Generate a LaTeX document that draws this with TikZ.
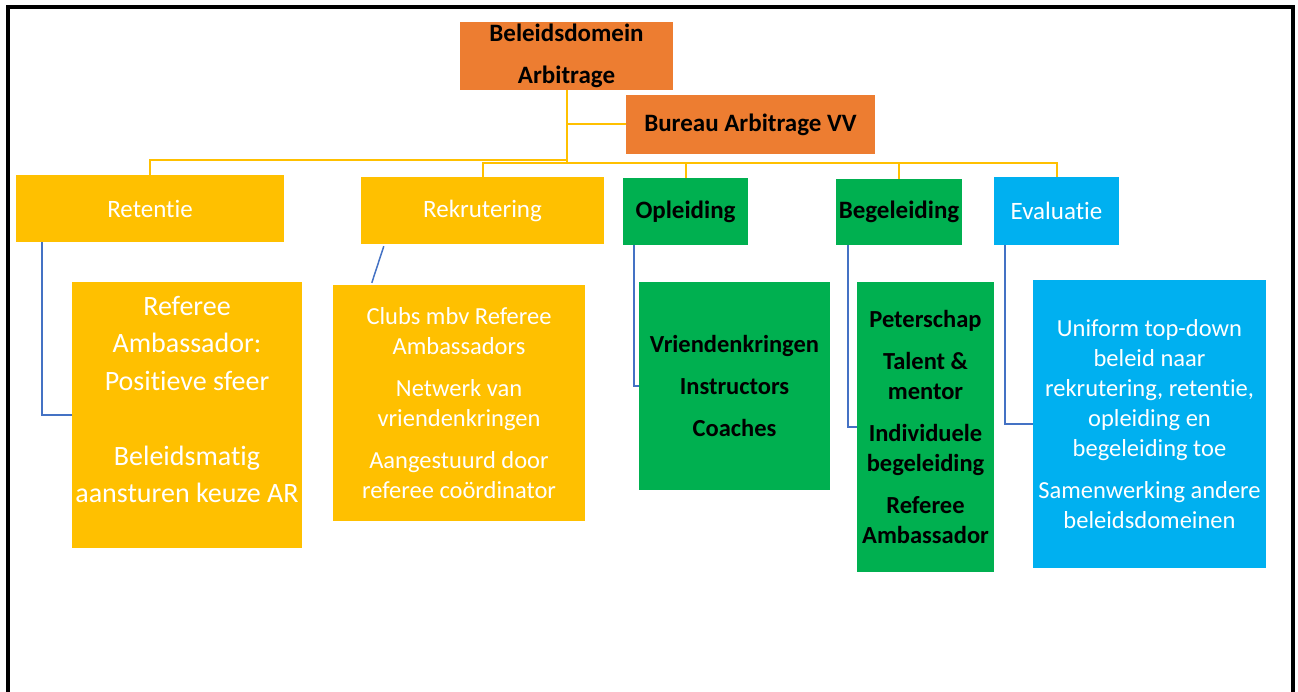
\documentclass[tikz,border=0pt]{standalone}
\usepackage{fontspec}
\setmainfont[Ligatures=NoCommon]{Carlito}
\definecolor{orangebox}{HTML}{ED7D31}
\definecolor{yelbox}{HTML}{FFC000}
\definecolor{greenbox}{HTML}{00B050}
\definecolor{bluebox}{HTML}{00B0F0}
\definecolor{linkblue}{HTML}{4472C4}

\begin{document}
\begin{tikzpicture}[x=1pt,y=-1pt,
    box/.style={inner sep=0pt,align=center},
    topbox/.style={box,fill=orangebox,font=\fontsize{25}{42}\selectfont\bfseries},
    headbox/.style={box,font=\fontsize{25}{30}\selectfont},
    boldhead/.style={box,font=\fontsize{25}{30}\selectfont\bfseries},
    subbox/.style={box,font=\fontsize{24.5}{30}\selectfont},
    boldsub/.style={box,font=\fontsize{24.5}{30}\selectfont\bfseries},
    ylink/.style={draw=yelbox,line width=2pt},
    blink/.style={draw=linkblue,line width=1.5pt}]
    \useasboundingbox (0,0) rectangle (1298,692);
    \draw[line width=4pt] (8,692) -- (8,7) -- (1293,7) -- (1293,692);

    \node[topbox,minimum width=213pt,minimum height=68pt] (dom) at (566.5,56) {\rule{0pt}{4pt}Beleidsdomein\\Arbitrage};
    \node[topbox,minimum width=249pt,minimum height=59pt] (bureau) at (750.5,124.5) {Bureau Arbitrage VV};

    \node[headbox,fill=yelbox,text=white,minimum width=268pt,minimum height=67pt] (ret) at (150,208.5) {Retentie};
    \node[headbox,fill=yelbox,text=white,minimum width=243pt,minimum height=67pt] (rek) at (482.5,210.5) {Rekrutering};
    \node[boldhead,fill=greenbox,minimum width=125pt,minimum height=67pt] (opl) at (685.5,211.5) {Opleiding};
    \node[boldhead,fill=greenbox,minimum width=126pt,minimum height=66pt] (beg) at (899,212) {Begeleiding};
    \node[headbox,fill=bluebox,text=white,minimum width=125pt,minimum height=68pt] (eva) at (1056.5,211) {Evaluatie};

    \node[box,fill=yelbox,text=white,font=\fontsize{28}{37.5}\selectfont,minimum width=230pt,minimum height=266pt] (retsub) at (187,415)
      {Referee\\Ambassador:\\Positieve sfeer\\[37.5pt]Beleidsmatig\\aansturen keuze AR\\[-6pt]\mbox{}};
    \node[subbox,fill=yelbox,text=white,minimum width=252pt,minimum height=236pt] (reksub) at (459,403)
      {Clubs mbv Referee\\Ambassadors\\[12pt]Netwerk van\\vriendenkringen\\[12pt]Aangestuurd door\\referee coördinator};
    \node[boldsub,fill=greenbox,minimum width=191pt,minimum height=208pt] (oplsub) at (734.5,386)
      {Vriendenkringen\\[12pt]Instructors\\[12pt]Coaches};
    \node[boldsub,fill=greenbox,minimum width=137pt,minimum height=290pt] (begsub) at (925.5,427)
      {Peterschap\\[12pt]Talent \&\\mentor\\[12pt]Individuele\\begeleiding\\[12pt]Referee\\Ambassador};
    \node[subbox,fill=bluebox,text=white,minimum width=233pt,minimum height=288pt] (evasub) at (1149.5,424)
      {Uniform top-down\\beleid naar\\rekrutering, retentie,\\opleiding en\\begeleiding toe\\[12pt]Samenwerking andere\\beleidsdomeinen};

    \coordinate (busL) at (566.5,160);
    \coordinate (busR) at (566.5,163);
    \draw[ylink] (dom.south) -- (busR);
    \draw[ylink] (dom.south) |- (bureau.west);
    \draw[ylink] (busL) -| (ret.north);
    \foreach \n in {rek,opl,beg,eva} {
      \draw[ylink] (busR) -| (\n.north);
    }

    \draw[blink] ([xshift=26pt]ret.south west) |- (retsub.west);
    \draw[blink] ([xshift=23pt,yshift=-2pt]rek.south west) -- ([xshift=39pt,yshift=2pt]reksub.north west);
    \draw[blink] ([xshift=11pt]opl.south west) |- (oplsub.west);
    \draw[blink] ([xshift=12pt]beg.south west) |- (begsub.west);
    \draw[blink] ([xshift=11pt]eva.south west) |- (evasub.west);
\end{tikzpicture}
\end{document}
